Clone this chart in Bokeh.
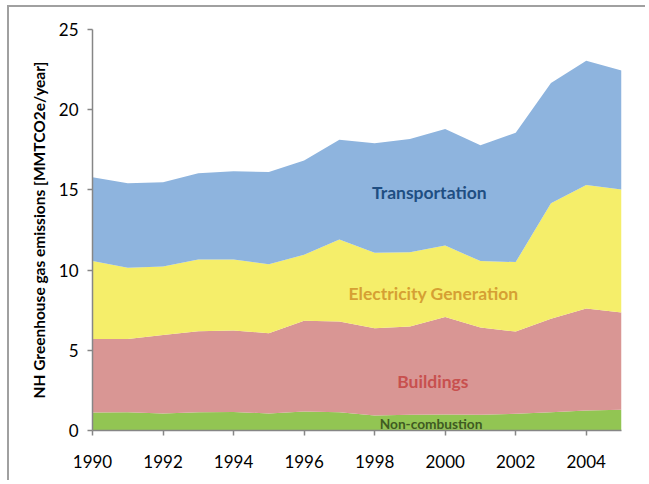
from bokeh.plotting import figure
from bokeh.models import ColumnDataSource, Range1d, FixedTicker, Label
from bokeh.embed import file_html
from bokeh.resources import INLINE

years = list(range(1990, 2006))
non_combustion = [1.12, 1.14, 1.06, 1.14, 1.16, 1.06, 1.18, 1.14, 0.94, 0.98, 1.00, 0.98, 1.04, 1.14, 1.25, 1.29]
buildings = [4.59, 4.57, 4.90, 5.05, 5.07, 5.01, 5.66, 5.66, 5.44, 5.50, 6.07, 5.44, 5.13, 5.82, 6.35, 6.07]
electricity = [4.85, 4.43, 4.26, 4.47, 4.43, 4.30, 4.11, 5.10, 4.70, 4.64, 4.46, 4.14, 4.33, 7.21, 7.70, 7.66]
transportation = [5.23, 5.28, 5.26, 5.38, 5.51, 5.74, 5.88, 6.23, 6.83, 7.06, 7.26, 7.23, 8.06, 7.50, 7.75, 7.42]

series = ["Non-combustion", "Buildings", "Electricity Generation", "Transportation"]
fill_colors = ["#92C553", "#D99694", "#F5EE6A", "#8EB4DE"]
label_colors = ["#3F5A22", "#C8504E", "#D5A033", "#1F4E82"]
x_ticks = [1990, 1992, 1994, 1996, 1998, 2000, 2002, 2004]
y_ticks = [0, 5, 10, 15, 20, 25]

source = ColumnDataSource(dict(
    year=years,
    nc=non_combustion,
    b=buildings,
    e=electricity,
    t=transportation,
))

p = figure(width=638, height=475, output_backend="svg", toolbar_location=None,
           x_range=Range1d(1990, 2005), y_range=Range1d(0, 25),
           min_border_left=83, min_border_right=26, min_border_top=22, min_border_bottom=52)
p.styles = {"border-top": "2px solid #A0A0A0", "border-left": "2px solid #A0A0A0",
            "margin-top": "5px", "margin-left": "7px"}

p.varea_stack(stackers=["nc", "b", "e", "t"], x="year", color=fill_colors, source=source)

p.xgrid.visible = False
p.ygrid.visible = False
p.outline_line_color = None

for ax in (p.xaxis[0], p.yaxis[0]):
    ax.axis_line_color = "#868686"
    ax.axis_line_width = 1.5
    ax.major_tick_line_color = "#868686"
    ax.major_tick_line_width = 1.5
    ax.major_tick_out = 5
    ax.major_tick_in = 0
    ax.minor_tick_line_color = None
    ax.major_label_text_font = "Lato"
    ax.major_label_text_font_size = "17px"
    ax.major_label_text_color = "#000000"

p.xaxis.ticker = FixedTicker(ticks=x_ticks)
p.yaxis.ticker = FixedTicker(ticks=y_ticks)
p.xaxis.major_label_standoff = 19
p.yaxis.major_label_standoff = 9

p.yaxis.axis_label = "NH Greenhouse gas emissions [MMTCO2e/year]"
p.yaxis.axis_label_text_font = "Lato"
p.yaxis.axis_label_text_font_style = "bold"
p.yaxis.axis_label_text_font_size = "15.5px"
p.yaxis.axis_label_text_color = "#000000"
p.yaxis.axis_label_standoff = 8

label_pos = [(1999.6, 0.44, "13.7px"), (1999.65, 3.05, "17.5px"), (1999.67, 8.54, "17.5px"), (1999.55, 14.84, "17.5px")]
for name, col, (lx, ly, fs) in zip(series, label_colors, label_pos):
    p.add_layout(Label(x=lx, y=ly, text=name, text_align="center", text_baseline="middle",
                       text_font="Lato", text_font_style="bold", text_font_size=fs,
                       text_color=col))

open("out.html", "w").write(file_html(p, INLINE))
